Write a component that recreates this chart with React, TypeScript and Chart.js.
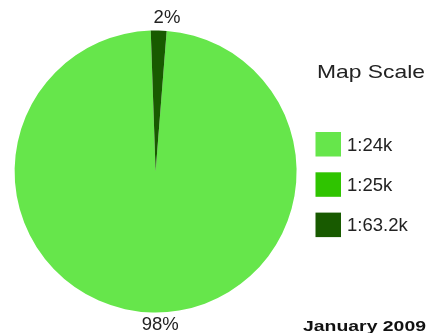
import React, { useEffect, useRef } from "react";
import { Chart, registerables } from "chart.js";

Chart.register(...registerables);

const categories = ["1:24k", "1:25k", "1:63.2k"];
const values = [98.2, 0, 1.8];
const colors = ["#66e64b", "#2fc400", "#185a00"];
const legendTitle = "Map Scale";
const footerText = "January 2009";

const FONT = "'Liberation Sans', Arial, sans-serif";

const overlayPlugin = {
  id: "overlay",
  afterDraw(chart: any) {
    const ctx = chart.ctx as CanvasRenderingContext2D;
    const meta = chart.getDatasetMeta(0);
    const data = chart.data.datasets[0].data as number[];
    const bg = chart.data.datasets[0].backgroundColor as string[];
    const labels = chart.data.labels as string[];
    const total = data.reduce((a, b) => a + b, 0);

    ctx.save();
    ctx.fillStyle = "#222";
    ctx.textAlign = "center";
    ctx.textBaseline = "middle";
    ctx.font = `18.5px ${FONT}`;
    meta.data.forEach((arc: any, i: number) => {
      if (!data[i]) return;
      const p = arc.getProps(["x", "y", "startAngle", "endAngle", "outerRadius"], true);
      const mid = (p.startAngle + p.endAngle) / 2;
      const d = 12.5;
      const x = p.x + (p.outerRadius + d) * Math.cos(mid) + 8;
      const y = p.y + (p.outerRadius + d) * Math.sin(mid);
      ctx.fillText(Math.round((data[i] / total) * 100) + "%", x, y);
    });

    // legend title (horizontally stretched)
    ctx.textAlign = "left";
    ctx.textBaseline = "alphabetic";
    ctx.font = `18.5px ${FONT}`;
    let w = ctx.measureText(legendTitle).width;
    ctx.save();
    ctx.translate(317, 78);
    ctx.scale(108 / w, 1);
    ctx.fillText(legendTitle, 0, 0);
    ctx.restore();

    // legend items
    ctx.font = `18.5px ${FONT}`;
    ctx.textBaseline = "middle";
    labels.forEach((lab, i) => {
      const top = 132 + i * 40.3;
      ctx.fillStyle = bg[i];
      ctx.fillRect(315.5, top, 25.5, 24.5);
      ctx.fillStyle = "#222";
      ctx.fillText(lab, 347, top + 13.5);
    });

    // footer
    ctx.textBaseline = "alphabetic";
    ctx.font = `bold 15px ${FONT}`;
    w = ctx.measureText(footerText).width;
    ctx.save();
    ctx.translate(303, 331);
    ctx.scale(123 / w, 1);
    ctx.fillStyle = "#111";
    ctx.fillText(footerText, 0, 0);
    ctx.restore();

    ctx.restore();
  },
};

export default function App() {
  const ref = useRef<HTMLCanvasElement>(null);
  useEffect(() => {
    if (!ref.current) return;
    const chart = new Chart(ref.current, {
      type: "pie",
      data: {
        labels: categories,
        datasets: [
          {
            data: values,
            backgroundColor: colors,
            borderWidth: 0,
          },
        ],
      },
      options: {
        responsive: false,
        animation: false,
        rotation: 4.5,
        layout: { padding: { left: 14.6, right: 133.4, top: 30.5, bottom: 20.5 } },
        plugins: {
          legend: { display: false },
          tooltip: { enabled: false },
        },
      },
      plugins: [overlayPlugin],
    });
    return () => chart.destroy();
  }, []);
  return (
    <div style={{ position: "absolute", left: 0, top: 0, width: 430, height: 333, background: "#fff" }}>
      <canvas ref={ref} width={430} height={333} style={{ width: 430, height: 333 }} />
    </div>
  );
}
